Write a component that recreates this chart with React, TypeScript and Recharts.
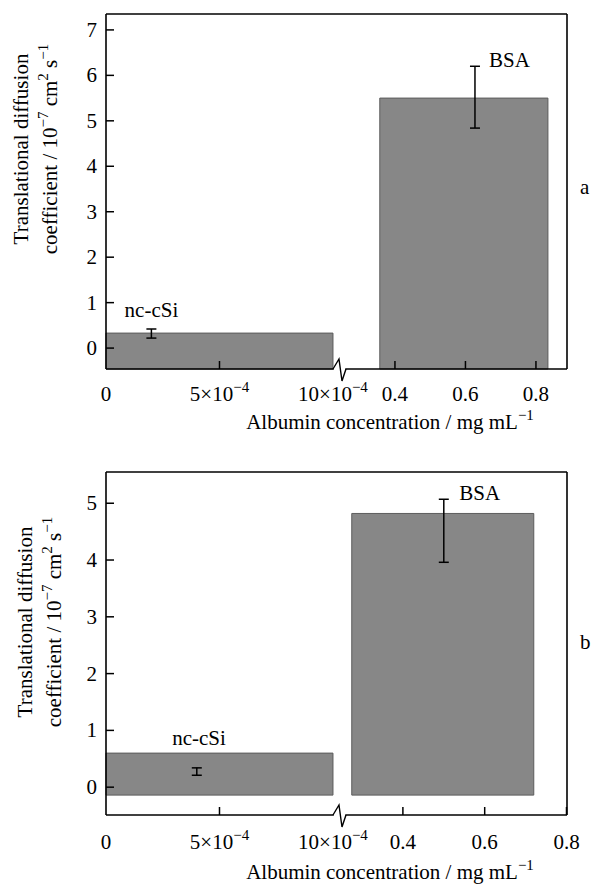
import React from 'react';
import {
  ComposedChart,
  XAxis,
  YAxis,
  ReferenceArea,
  ReferenceDot,
  Scatter,
  ErrorBar,
} from 'recharts';

// ---------------- data ----------------
const categories = ['nc-cSi', 'BSA'];

// panel a
const aBarStart = [0, 0.357]; // mg/mL
const aBarEnd = [0.001, 0.834]; // mg/mL
const aValues = [0.33, 5.5];
const aErrX = [0.0002, 0.627];
const aErrMid = [0.32, 5.52];
const aErrHalf = [0.1, 0.68];
const aLabelX = [0.0002, 0.725];
const aLabelY = [0.84, 6.34];
const aYTicks = [0, 1, 2, 3, 4, 5, 6, 7];

// panel b
const bBarStart = [0, 0.275];
const bBarEnd = [0.001, 0.72];
const bValues = [0.6, 4.82];
const bBarBase = -0.14;
const bErrX = [0.0004, 0.5];
const bErrMid = [0.275, 4.515];
const bErrHalf = [0.065, 0.555];
const bLabelX = [0.00041, 0.588];
const bLabelY = [0.88, 5.19];
const bYTicks = [0, 1, 2, 3, 4, 5];

// x tick labels (shared)
const xTickValues = [0, 0.0005, 0.001, 0.4, 0.6, 0.8];
const xTickMain = ['0', '5×10', '10×10', '0.4', '0.6', '0.8'];
const xTickSup = ['', '−4', '−4', '', '', ''];

// ---------------- layout ----------------
const FONT = "'Liberation Serif', 'Times New Roman', 'DejaVu Serif', serif";
const W = 593;
const PLOT_LEFT = 106;
const PLOT_RIGHT = 567;
const BAR_FILL = '#878787';
const BAR_STROKE = '#5c5c5c';
const TXT = { fontFamily: FONT } as React.CSSProperties;

type PanelCfg = {
  top: number;
  height: number;
  plotTop: number;
  plotBottom: number;
  yDomain: [number, number];
  yTicks: number[];
  rightAnchor: number;
  rightScale: number;
  barStart: number[];
  barEnd: number[];
  values: number[];
  barBase: number;
  errX: number[];
  errMid: number[];
  errHalf: number[];
  labelX: number[];
  labelY: number[];
  tickDy: number;
};

const U_MAX = 20.31; // 1 u = 1e-4 mg/mL on the left segment

function makeToU(cfg: PanelCfg) {
  return (c: number) => (c <= 0.0011 ? c * 1e4 : cfg.rightAnchor + (c - 0.4) * cfg.rightScale);
}

const panelA: PanelCfg = {
  top: 0,
  height: 440,
  plotTop: 14,
  plotBottom: 369,
  yDomain: [-0.46, 7.35],
  yTicks: aYTicks,
  rightAnchor: 12.73,
  rightScale: 15.53,
  barStart: aBarStart,
  barEnd: aBarEnd,
  values: aValues,
  barBase: -0.46,
  errX: aErrX,
  errMid: aErrMid,
  errHalf: aErrHalf,
  labelX: aLabelX,
  labelY: aLabelY,
  tickDy: 32,
};

const panelB: PanelCfg = {
  top: 440,
  height: 445,
  plotTop: 32,
  plotBottom: 375,
  yDomain: [-0.49, 5.55],
  yTicks: bYTicks,
  rightAnchor: 13.08,
  rightScale: 18.02,
  barStart: bBarStart,
  barEnd: bBarEnd,
  values: bValues,
  barBase: bBarBase,
  errX: bErrX,
  errMid: bErrMid,
  errHalf: bErrHalf,
  labelX: bLabelX,
  labelY: bLabelY,
  tickDy: 34,
};

const TICK_FS = 21;

function YTick(props: any) {
  const { y, payload } = props;
  return (
    <g>
      <line x1={PLOT_LEFT} y1={y} x2={PLOT_LEFT + 8} y2={y} stroke="#000" strokeWidth={1.5} />
      <text x={PLOT_LEFT - 9} y={y + 7} textAnchor="end" style={TXT} fontSize={TICK_FS} fill="#000">
        {payload.value}
      </text>
    </g>
  );
}

function makeXTick(cfg: PanelCfg, plotBottom: number) {
  return function XTick(props: any) {
    const { x, index } = props;
    const y = plotBottom;
    const v = xTickValues[index];
    const isBreak = v === 0.001;
    const drawMark = v !== 0 && !isBreak;
    return (
      <g>
        {drawMark && <line x1={x} y1={y} x2={x} y2={y - 8} stroke="#000" strokeWidth={1.5} />}
        {isBreak && (
          <g>
            <rect x={x + 0.8} y={y - 3} width={11.5} height={6} fill="#fff" />
            <polyline
              points={`${x},${y} ${x + 6},${y - 10} ${x + 9},${y + 12} ${x + 13},${y}`}
              fill="none"
              stroke="#000"
              strokeWidth={1.4}
            />
          </g>
        )}
        <text x={x} y={y + cfg.tickDy} textAnchor="middle" style={TXT} fontSize={TICK_FS} fill="#000">
          {xTickMain[index]}
          {xTickSup[index] && (
            <tspan dy={-9} fontSize={15}>
              {xTickSup[index]}
            </tspan>
          )}
        </text>
      </g>
    );
  };
}

function Panel({ cfg }: { cfg: PanelCfg }) {
  const toU = makeToU(cfg);
  const yAxisW = 40;
  const xAxisH = 30;
  const margin = {
    top: cfg.plotTop - 10,
    left: PLOT_LEFT - yAxisW,
    right: W - PLOT_RIGHT - 10,
    bottom: cfg.height - cfg.plotBottom - xAxisH,
  };
  const errData = categories.map((name, i) => ({
    name,
    u: toU(cfg.errX[i]),
    y: cfg.errMid[i],
    e: cfg.errHalf[i],
  }));
  const XTick = makeXTick(cfg, cfg.plotBottom);
  return (
    <div style={{ position: 'absolute', left: 0, top: cfg.top }}>
      <ComposedChart width={W} height={cfg.height} margin={margin}>
        {categories.map((name, i) => (
          <ReferenceArea
            key={name}
            x1={toU(cfg.barStart[i])}
            x2={toU(cfg.barEnd[i])}
            y1={cfg.barBase}
            y2={cfg.values[i]}
            fill={BAR_FILL}
            fillOpacity={1}
            stroke={BAR_STROKE}
            strokeWidth={1}
            ifOverflow="visible"
          />
        ))}
        <XAxis
          type="number"
          dataKey="u"
          domain={[0, U_MAX]}
          allowDataOverflow
          ticks={xTickValues.map(toU)}
          interval={0}
          tick={<XTick />}
          tickLine={false}
          tickSize={0}
          tickMargin={0}
          height={xAxisH}
          axisLine={{ stroke: '#000', strokeWidth: 1.6 }}
        />
        <XAxis
          xAxisId="top"
          orientation="top"
          type="number"
          domain={[0, 1]}
          tick={false}
          tickLine={false}
          height={10}
          axisLine={{ stroke: '#000', strokeWidth: 1.6 }}
        />
        <YAxis
          type="number"
          dataKey="y"
          domain={cfg.yDomain}
          allowDataOverflow
          ticks={cfg.yTicks}
          interval={0}
          tick={<YTick />}
          tickLine={false}
          tickSize={0}
          tickMargin={0}
          width={yAxisW}
          axisLine={{ stroke: '#000', strokeWidth: 1.6 }}
        />
        <YAxis
          yAxisId="right"
          orientation="right"
          type="number"
          domain={[0, 1]}
          tick={false}
          tickLine={false}
          width={10}
          axisLine={{ stroke: '#000', strokeWidth: 1.6 }}
        />
        <Scatter data={errData} dataKey="y" isAnimationActive={false} shape={() => <g />}>
          <ErrorBar dataKey="e" direction="y" width={5} stroke="#000" strokeWidth={1.5} isAnimationActive={false} />
        </Scatter>
        {categories.map((name, i) => (
          <ReferenceDot
            key={'l' + name}
            x={toU(cfg.labelX[i])}
            y={cfg.labelY[i]}
            r={0}
            fill="none"
            stroke="none"
            label={{ value: name, position: 'center', style: TXT, fontSize: 21, fill: '#000' }}
          />
        ))}
      </ComposedChart>
    </div>
  );
}

const TITLE_FS = 21;

function Titles() {
  const yTitle = (x1: number, x2: number, cy: number) => (
    <g>
      <text
        transform={`translate(${x1},${cy}) rotate(-90)`}
        textAnchor="middle"
        style={TXT}
        fontSize={TITLE_FS}
        fill="#000"
      >
        Translational diffusion
      </text>
      <text
        transform={`translate(${x2},${cy}) rotate(-90)`}
        textAnchor="middle"
        style={TXT}
        fontSize={TITLE_FS}
        fill="#000"
      >
        coefficient / 10
        <tspan dy={-9} fontSize={15}>−7</tspan>
        <tspan dy={9}> cm</tspan>
        <tspan dy={-9} fontSize={15}>2</tspan>
        <tspan dy={9}> s</tspan>
        <tspan dy={-9} fontSize={15}>−1</tspan>
      </text>
    </g>
  );
  const xTitle = (cx: number, y: number) => (
    <text x={cx} y={y} textAnchor="middle" style={TXT} fontSize={TITLE_FS} fill="#000">
      Albumin concentration / mg mL
      <tspan dy={-9} fontSize={15}>−1</tspan>
    </text>
  );
  return (
    <svg width={W} height={885} style={{ position: 'absolute', left: 0, top: 0, pointerEvents: 'none' }}>
      {yTitle(28, 57, 149)}
      {xTitle(390, 429)}
      <text x={580} y={194} style={TXT} fontSize={21} fill="#000">a</text>
      {yTitle(32, 61, 622)}
      {xTitle(390, 879)}
      <text x={580} y={649} style={TXT} fontSize={21} fill="#000">b</text>
    </svg>
  );
}

export default function App() {
  return (
    <div style={{ position: 'absolute', left: 0, top: 0, width: W, height: 885, background: '#fff' }}>
      <Panel cfg={panelA} />
      <Panel cfg={panelB} />
      <Titles />
    </div>
  );
}
